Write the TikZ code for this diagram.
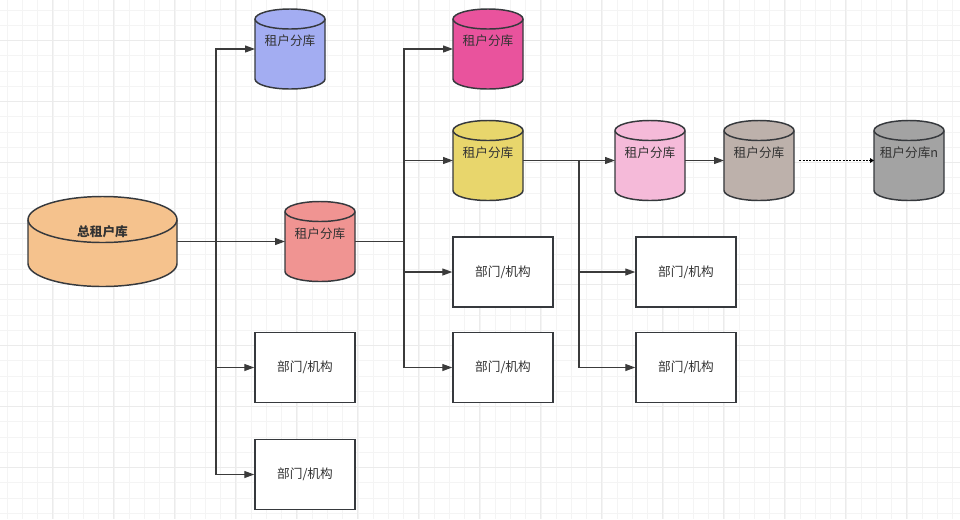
\documentclass[tikz,border=0pt]{standalone}
\usepackage{fontspec}
\setmainfont{Noto Sans CJK SC}
\usepackage{xcolor}
\usetikzlibrary{arrows.meta,backgrounds}

\definecolor{edgegray}{HTML}{36393D}
\definecolor{linegray}{HTML}{3B3B3B}
\definecolor{txtgray}{HTML}{333333}
\definecolor{gridminor}{HTML}{F4F4F4}
\definecolor{gridmajor}{HTML}{EBEBEB}
\definecolor{dborange}{HTML}{F5C28D}
\definecolor{dbred}{HTML}{F09492}
\definecolor{dbblue}{HTML}{A3ADF2}
\definecolor{dbmagenta}{HTML}{E9539D}
\definecolor{dbyellow}{HTML}{E8D66C}
\definecolor{dbpink}{HTML}{F5BAD9}
\definecolor{dbbrown}{HTML}{BDB1AB}
\definecolor{dbgray}{HTML}{A3A3A3}

% cylinder drawn round a named node: name, fill, x radius, y radius
\newcommand\dbshape[4]{%
  \filldraw[fill=#2, draw=edgegray, line width=1.1pt]
    ([yshift=-#4]#1.north west) -- ([yshift=#4]#1.south west)
    arc[start angle=180, end angle=360, x radius=#3, y radius=#4]
    -- ([yshift=-#4]#1.north east)
    arc[start angle=0, end angle=180, x radius=#3, y radius=#4] -- cycle;
  \draw[edgegray, line width=1.1pt] ([yshift=-#4]#1.north west)
    arc[start angle=180, end angle=360, x radius=#3, y radius=#4];
}

\begin{document}
\begin{tikzpicture}[
  x=0.75pt, y=-0.75pt,
  >={Triangle[length=7.5pt,width=5.25pt]},
  tag/.style={font=\fontsize{9.5}{11}\selectfont, text=txtgray},
  db/.style={rectangle, minimum width=52.5pt, minimum height=60pt, inner sep=0pt, outer sep=0pt},
  box/.style={rectangle, draw=edgegray, line width=1.1pt, fill=white,
    minimum width=75pt, minimum height=52.5pt, tag},
  conn/.style={->, draw=linegray, line width=0.9pt},
  dotconn/.style={-{Triangle[length=3pt,width=3.5pt]}, draw=black, line width=1.4pt,
    dash pattern=on 1.5pt off 1pt, shorten <=4pt}
]

% canvas and grid
\useasboundingbox (0,0) rectangle (960,519);
\begin{scope}[on background layer]
  \fill[white] (0,0) rectangle (960,519);
  \foreach \i in {0,...,62} \draw[gridminor, line width=0.8pt] ({7.45+15.25*\i},0) -- ++(0,519);
  \foreach \i in {0,...,33} \draw[gridminor, line width=0.8pt] (0,{10.2+15.25*\i}) -- ++(960,0);
  \foreach \i in {0,...,14} \draw[gridmajor, line width=0.8pt] ({52.7+61*\i},0) -- ++(0,519);
  \foreach \i in {0,...,7} \draw[gridmajor, line width=0.8pt] (0,{40.7+61*\i}) -- ++(960,0);
\end{scope}

% main database
\node[db, minimum width=111.75pt, minimum height=67.5pt,
  label={[tag, font=\fontsize{9.5}{11}\selectfont\bfseries, yshift=7.5pt]center:总租户库}] (main) at (102.5,241.5) {};

% tenant databases
\node[db, label={[tag, yshift=6pt]center:租户分库}] (t1) at (290,49) {};
\node[db, label={[tag, yshift=6pt]center:租户分库}] (t2) at (488,49) {};
\node[db, label={[tag, yshift=6pt]center:租户分库}] (t3) at (320,241.5) {};
\node[db, label={[tag, yshift=6pt]center:租户分库}] (t4) at (488,160.5) {};
\node[db, label={[tag, yshift=6pt]center:租户分库}] (t5) at (650,160.5) {};
\node[db, label={[tag, yshift=6pt]center:租户分库}] (t6) at (759,160.5) {};
\node[db, label={[tag, yshift=6pt]center:租户分库n}] (t7) at (909,160.5) {};

\begin{scope}[on background layer]
  \dbshape{main}{dborange}{55.875pt}{17.25pt}
  \dbshape{t1}{dbblue}{26.25pt}{7.5pt}
  \dbshape{t2}{dbmagenta}{26.25pt}{7.5pt}
  \dbshape{t3}{dbred}{26.25pt}{7.5pt}
  \dbshape{t4}{dbyellow}{26.25pt}{7.5pt}
  \dbshape{t5}{dbpink}{26.25pt}{7.5pt}
  \dbshape{t6}{dbbrown}{26.25pt}{7.5pt}
  \dbshape{t7}{dbgray}{26.25pt}{7.5pt}
\end{scope}

% departments
\node[box] (d1) at (305,367.5) {部门/机构};
\node[box] (d2) at (305,474.5) {部门/机构};
\node[box] (d3) at (503,272) {部门/机构};
\node[box] (d4) at (503,367.5) {部门/机构};
\node[box] (d5) at (686,272) {部门/机构};
\node[box] (d6) at (686,367.5) {部门/机构};

% links from main
\draw[conn] (main.east) -- (main.east -| t3.west);
\draw[conn] (main.east) -- ++(39,0) |- (t1.west);
\draw[conn] (main.east) -- ++(39,0) |- (d1.west);
\draw[conn] (main.east) -- ++(39,0) |- (d2.west);

% links from red tenant
\draw[conn] (t3.east) -- ++(49,0) |- (t2.west);
\draw[conn] (t3.east) -- ++(49,0) |- (t4.west);
\draw[conn] (t3.east) -- ++(49,0) |- (d3.west);
\draw[conn] (t3.east) -- ++(49,0) |- (d4.west);

% links from yellow tenant
\draw[conn] (t4.east) -- (t5.west);
\draw[conn] (t4.east) -- ++(56,0) |- (d5.west);
\draw[conn] (t4.east) -- ++(56,0) |- (d6.west);
\draw[conn] (t5.east) -- (t6.west);
\draw[dotconn] (t6.east) -- (t7.west);
\end{tikzpicture}
\end{document}
